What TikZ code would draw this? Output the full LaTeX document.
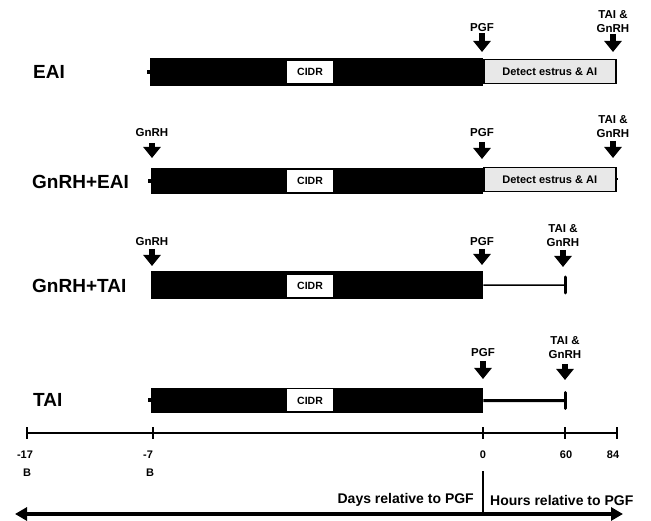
\documentclass[tikz,border=0pt]{standalone}
\usepackage{fontspec}
\setmainfont{Liberation Sans}
\usetikzlibrary{arrows.meta}
\begin{document}
\begin{tikzpicture}[x=1pt,y=-1pt,
  rowlab/.style={font=\fontsize{19}{20}\selectfont\bfseries, anchor=west, inner sep=0pt},
  lab/.style={font=\fontsize{11.5}{14}\selectfont\bfseries, align=center, inner sep=0pt, anchor=south},
  ticklab/.style={font=\fontsize{11}{12}\selectfont\bfseries, inner sep=0pt},
  axislab/.style={font=\fontsize{14}{15}\selectfont\bfseries, inner sep=0pt},
  bar/.style={fill=black, inner sep=0pt, anchor=north west},
  cidr/.style={fill=white, inner sep=0pt, minimum width=46pt, minimum height=22pt, font=\fontsize{10.5}{12}\selectfont\bfseries},
  detect/.style={fill=black!9, draw=black, line width=1.5pt, inner sep=0pt, minimum width=132pt, minimum height=24pt, font=\fontsize{11}{12}\selectfont\bfseries, anchor=north west},
  dnarrow/.style={line width=6.5pt, -{Triangle[width=17pt,length=11pt]}},
  endtick/.style={line width=3pt, line cap=round},
  axisline/.style={line width=1.5pt},
  axistick/.style={line width=2pt}
]
\useasboundingbox (0,0) rectangle (651,521);

% ---------- Row 1: EAI ----------
\node[rowlab] (r1) at (33,72) {EAI};
\node[bar, minimum width=333pt, minimum height=28pt] (bar1) at (150,58) {};
\fill (147,70) rectangle (151,74);
\node[cidr] (cidr1) at (310,72) {CIDR};
\node[detect] (det1) at (483,59) {Detect estrus \& AI};
\node[lab] (pgf1) at (482,32) {PGF};
\draw[dnarrow] ([yshift=-1pt]pgf1.south) -- ++(0,19);
\node[lab] (tai1) at (613,33) {TAI \&\\GnRH};
\draw[dnarrow] ([yshift=-1pt]tai1.south) -- ++(0,18);

% ---------- Row 2: GnRH+EAI ----------
\node[rowlab] (r2) at (32,182) {GnRH+EAI};
\node[bar, minimum width=332pt, minimum height=26pt] (bar2) at (151,168) {};
\fill (148,179) rectangle (152,183);
\node[cidr] (cidr2) at (310,181) {CIDR};
\node[detect] (det2) at (483,167) {Detect estrus \& AI};
\fill (615,178) rectangle (618,180.5);
\node[lab] (gnrh2) at (152,137) {GnRH};
\draw[dnarrow] ([yshift=-6pt]gnrh2.south) -- ++(0,15);
\node[lab] (pgf2) at (482,137) {PGF};
\draw[dnarrow] ([yshift=-5pt]pgf2.south) -- ++(0,17);
\node[lab] (tai2) at (613,138) {TAI \&\\GnRH};
\draw[dnarrow] ([yshift=-3pt]tai2.south) -- ++(0,17);

% ---------- Row 3: GnRH+TAI ----------
\node[rowlab] (r3) at (32,286) {GnRH+TAI};
\node[bar, minimum width=332pt, minimum height=28pt] (bar3) at (151,271) {};
\node[cidr] (cidr3) at (310,286) {CIDR};
\coordinate (e3) at (565,285);
\draw[line width=1.5pt] (bar3.east) -- (e3);
\draw[endtick] ([yshift=8pt]e3) -- ([yshift=-8pt]e3);
\node[lab] (gnrh3) at (152,246) {GnRH};
\draw[dnarrow] ([yshift=-3pt]gnrh3.south) -- ++(0,17);
\node[lab] (pgf3) at (482,246) {PGF};
\draw[dnarrow] ([yshift=-3pt]pgf3.south) -- ++(0,16);
\node[lab] (tai3) at (563,247) {TAI \&\\GnRH};
\draw[dnarrow] ([yshift=-3pt]tai3.south) -- ++(0,17);

% ---------- Row 4: TAI ----------
\node[rowlab] (r4) at (33,400) {TAI};
\node[bar, minimum width=332pt, minimum height=25pt] (bar4) at (151,388) {};
\fill (148,398.5) rectangle (152,402.5);
\node[cidr] (cidr4) at (310,400.5) {CIDR};
\coordinate (e4) at (565,400.5);
\draw[line width=3pt] (bar4.east) -- (e4);
\draw[endtick] ([yshift=8pt]e4) -- ([yshift=-8pt]e4);
\node[lab] (pgf4) at (483,357) {PGF};
\draw[dnarrow] ([yshift=-4pt]pgf4.south) -- ++(0,18);
\node[lab] (tai4) at (565,359) {TAI \&\\GnRH};
\draw[dnarrow] ([yshift=-5pt]tai4.south) -- ++(0,16);

% ---------- Axis ----------
\coordinate (a17) at (27,433);
\coordinate (a7) at (153,433);
\coordinate (a0) at (483,433);
\coordinate (a60) at (565,433);
\coordinate (a84) at (617,433);
\draw[axisline] (a17) -- (a84);
\foreach \t in {a17,a7,a0,a60,a84}
  \draw[axistick] ([yshift=6pt]\t) -- ([yshift=-6pt]\t);
\node[ticklab] (l17) at (25,455) {-17};
\node[ticklab] (b17) at (27,473) {B};
\node[ticklab] (l7) at (148,455) {-7};
\node[ticklab] (b7) at (150,473) {B};
\node[ticklab] (l0) at (483,455) {0};
\node[ticklab] (l60) at (566,455) {60};
\node[ticklab] (l84) at (613,455) {84};

% ---------- Bottom ----------
\coordinate (dtop) at (483,471);
\coordinate (dbot) at (483,513);
\draw[line width=1.5pt] (dtop) -- (dbot);
\node[axislab, anchor=east] (days) at (474,500) {Days relative to PGF};
\node[axislab, anchor=west] (hours) at (490,500) {Hours relative to PGF};
\coordinate (bl) at (15,514);
\coordinate (br) at (623,514);
\draw[line width=4pt, {Triangle[width=13pt,length=12pt]}-{Triangle[width=13pt,length=12pt]}] (bl) -- (br);
\end{tikzpicture}
\end{document}
